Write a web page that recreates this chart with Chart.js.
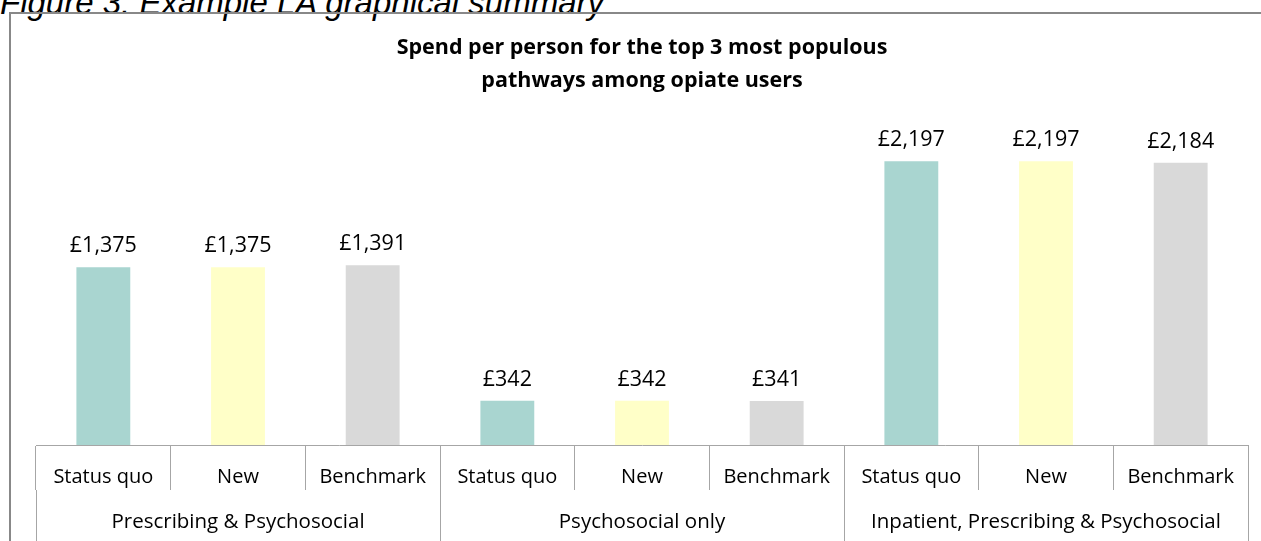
<!DOCTYPE html>
<html>
<head>
<meta charset="utf-8">
<script src="https://cdn.jsdelivr.net/npm/chart.js@4.4.0/dist/chart.umd.min.js"></script>
<style>
  html, body { margin: 0; padding: 0; background: #fff; overflow: hidden; }
  body { width: 1261px; height: 541px; position: relative; }
  #caption { position: absolute; left: 0; top: -13px; font: italic 33px/32px "Liberation Sans", Arial, sans-serif; color: #000; white-space: nowrap; }
  #frame { position: absolute; left: 9px; top: 12px; width: 1300px; height: 600px; border: 2px solid #888; box-sizing: border-box; }
  #chart-area { position: absolute; left: 0; top: 0; width: 1261px; height: 541px; }
</style>
</head>
<body>
<div id="caption">Figure 3: Example LA graphical summary</div>
<div id="frame"></div>
<div id="chart-area"><canvas id="main-chart" width="1261" height="541"></canvas></div>
<script>
const categories = ["Status quo", "New", "Benchmark", "Status quo", "New", "Benchmark", "Status quo", "New", "Benchmark"];
const groups = ["Prescribing & Psychosocial", "Psychosocial only", "Inpatient, Prescribing & Psychosocial"];
const spend = [1375, 1375, 1391, 342, 342, 341, 2197, 2197, 2184];
const barColors = ["#a9d5d0", "#ffffc8", "#d9d9d9", "#a9d5d0", "#ffffc8", "#d9d9d9", "#a9d5d0", "#ffffc8", "#d9d9d9"];

const FONT = "'Open Sans', sans-serif";
const lineColor = "#a6a6a6";

// £ labels above each bar
const valueLabels = {
  id: "valueLabels",
  afterDatasetsDraw(chart) {
    const { ctx } = chart;
    const meta = chart.getDatasetMeta(0);
    ctx.save();
    ctx.font = "21.5px " + FONT;
    ctx.fillStyle = "#000";
    ctx.textAlign = "center";
    ctx.textBaseline = "alphabetic";
    meta.data.forEach((bar, i) => {
      ctx.fillText("£" + spend[i].toLocaleString("en-GB"), bar.x, bar.y - 15);
    });
    ctx.restore();
  }
};

const ctx = document.getElementById("main-chart");
new Chart(ctx, {
  type: "bar",
  data: {
    labels: categories,
    datasets: [
      {
        data: spend,
        backgroundColor: barColors,
        borderWidth: 0,
        barPercentage: 0.4,
        categoryPercentage: 1
      }
    ]
  },
  options: {
    responsive: false,
    animation: false,
    events: [],
    layout: { padding: { left: 36, right: 13, top: 0, bottom: 0 } },
    plugins: {
      legend: { display: false },
      tooltip: { enabled: false },
      title: {
        display: true,
        text: ["Spend per person for the top 3 most populous", "pathways among opiate users"],
        color: "#000",
        font: { family: FONT, size: 21.5, weight: "bold", lineHeight: "33px" },
        padding: { top: 31.5, bottom: 24.5 }
      }
    },
    scales: {
      x: {
        offset: true,
        grid: { offset: true, drawOnChartArea: false, tickLength: 45, color: lineColor },
        border: { display: true, color: lineColor },
        ticks: { font: { family: FONT, size: 20 }, color: "#000", padding: -24.5, maxRotation: 0, autoSkip: false },
        afterFit(scale) { scale.height = 45; }
      },
      y: {
        display: false,
        min: 0,
        max: 2500
      },
      x2: {
        type: "category",
        labels: groups,
        position: "bottom",
        offset: true,
        grid: { offset: true, drawOnChartArea: false, tickLength: 51, color: lineColor },
        border: { display: false },
        ticks: { font: { family: FONT, size: 20.5 }, color: "#000", padding: -31, maxRotation: 0, autoSkip: false },
        afterFit(scale) { scale.height = 51; }
      }
    }
  },
  plugins: [valueLabels]
});
</script>
</body>
</html>
